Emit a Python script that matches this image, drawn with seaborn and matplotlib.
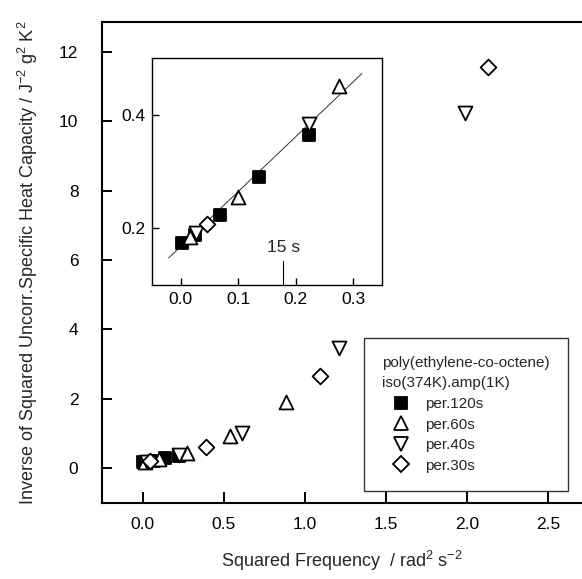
import numpy as np
import pandas as pd
import matplotlib
matplotlib.use("Agg")
import matplotlib.pyplot as plt
from matplotlib.lines import Line2D
import seaborn as sns

# ---- data ----
sq120_x = [0.003, 0.024, 0.069, 0.136, 0.223]
sq120_y = [0.174, 0.188, 0.223, 0.291, 0.365]
tri60_x = [0.016, 0.100, 0.275, 0.537, 0.887]
tri60_y = [0.185, 0.255, 0.450, 0.93, 1.91]
tri40_x = [0.027, 0.223, 0.615, 1.21, 1.99]
tri40_y = [0.191, 0.384, 1.03, 3.48, 10.24]
dia30_x = [0.045, 0.393, 1.097, 2.13]
dia30_y = [0.208, 0.60, 2.65, 11.56]

fit_x = [-0.021, 0.315]
fit_intercept = 0.168
fit_slope = 0.967

series_labels = ["per.120s", "per.60s", "per.40s", "per.30s"]
legend_title = "poly(ethylene-co-octene)\niso(374K).amp(1K)"
main_xticks = [0.0, 0.5, 1.0, 1.5, 2.0, 2.5]
main_yticks = [0, 2, 4, 6, 8, 10, 12]
inset_xticks = [0.0, 0.1, 0.2, 0.3]
inset_yticks = [0.2, 0.4]
mark_x = 0.178
mark_label = "15 s"

sns.set_theme(style="ticks")
plt.rcParams["font.family"] = ["Liberation Sans", "DejaVu Sans"]
plt.rcParams["mathtext.fontset"] = "custom"
plt.rcParams["mathtext.rm"] = "Liberation Sans"
plt.rcParams["mathtext.it"] = "Liberation Sans"

FS = 12.5
LFS = 11
fig = plt.figure(figsize=(5.82, 5.79), dpi=100)
ax = fig.add_axes([102 / 582, 1 - 503 / 579, 480 / 582, 481 / 579])
axi = fig.add_axes([152 / 582, 1 - 285 / 579, 230 / 582, 227 / 579])

styles = [
    (sq120_x, sq120_y, "s", "black", 9),
    (tri60_x, tri60_y, "^", "white", 10),
    (tri40_x, tri40_y, "v", "white", 10),
    (dia30_x, dia30_y, "D", "white", 8),
]


def draw(a):
    for (xs, ys, m, fc, ms), lab in zip(styles, series_labels):
        df = pd.DataFrame({"x": xs, "y": ys})
        sns.scatterplot(data=df, x="x", y="y", ax=a, marker=m,
                        facecolor=fc, edgecolor="black", linewidth=1.3,
                        s=ms ** 2, legend=False, zorder=3)


draw(ax)
ax.set_xlim(-0.25, 2.71)
ax.set_ylim(-1.0, 12.86)
ax.set_xticks(main_xticks)
ax.set_xticklabels([f"{v:.1f}" for v in main_xticks])
ax.set_yticks(main_yticks)
ax.set_yticklabels([str(v) for v in main_yticks])
ax.tick_params(direction="in", length=8, width=1.4, labelsize=FS, pad=10,
               colors="black")
ax.tick_params(axis="y", length=7, pad=17)
for s in ["left", "bottom", "top"]:
    ax.spines[s].set_linewidth(1.5)
    ax.spines[s].set_color("black")
ax.spines["right"].set_visible(False)
ax.set_xlabel(r"Squared Frequency  / rad$^{\mathregular{2}}$ s$^{\mathregular{-2}}$",
              fontsize=13, labelpad=12)
ax.set_ylabel(r"Inverse of Squared Uncorr.Specific Heat Capacity / J$^{\mathregular{-2}}$ g$^{\mathregular{2}}$ K$^{\mathregular{2}}$",
              fontsize=13, labelpad=14)

# inset
draw(axi)
line_df = pd.DataFrame({"x": fit_x,
                        "y": [fit_intercept + fit_slope * v for v in fit_x]})
sns.lineplot(data=line_df, x="x", y="y", ax=axi, color="#333333",
             linewidth=0.7, zorder=2)
axi.set_xlim(-0.05, 0.35)
axi.set_ylim(0.1, 0.5)
axi.set_xticks(inset_xticks)
axi.set_xticklabels([f"{v:.1f}" for v in inset_xticks])
axi.set_yticks(inset_yticks)
axi.set_yticklabels([f"{v:.1f}" for v in inset_yticks])
axi.tick_params(direction="in", length=5, width=1.0, labelsize=FS, pad=5,
                colors="black")
for s in axi.spines.values():
    s.set_linewidth(1.0)
    s.set_color("black")
axi.set_xlabel("")
axi.set_ylabel("")
axi.axvline(mark_x, ymin=0.0, ymax=0.105, color="black", linewidth=0.8)
axi.text(mark_x, 0.152, mark_label, ha="center", va="bottom", fontsize=FS)

# legend
handles = [Line2D([], [], linestyle="none", marker=m, markersize=ms,
                  markerfacecolor=fc, markeredgecolor="black",
                  markeredgewidth=1.3)
           for (_, _, m, fc, ms) in styles]
leg = fig.legend(handles, series_labels, title=legend_title,
                 loc="upper left", bbox_to_anchor=(364 / 582, 1 - 338 / 579),
                 bbox_transform=fig.transFigure, fontsize=LFS,
                 title_fontsize=LFS, frameon=True, fancybox=False,
                 handlelength=2.5, handletextpad=0.3, labelspacing=0.42,
                 borderpad=1.2, alignment="left", borderaxespad=0)
leg.get_title().set_linespacing(1.55)
leg.get_frame().set_edgecolor("black")
leg.get_frame().set_linewidth(1.0)
leg._legend_box.sep = 5

fig.savefig("out.png", dpi=100)
